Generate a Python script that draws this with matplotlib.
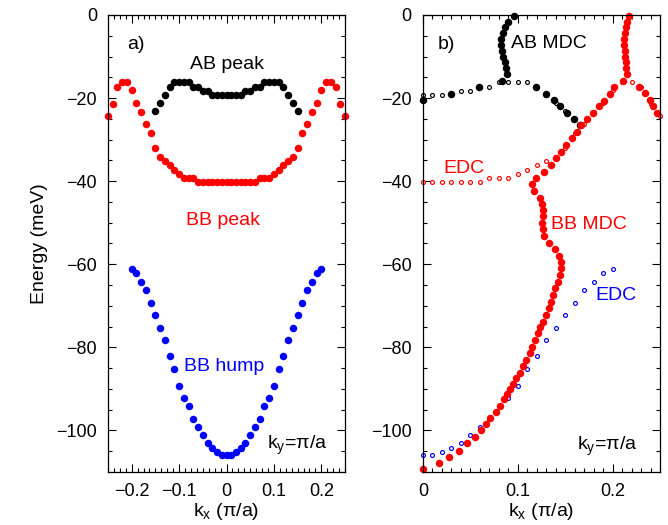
import numpy as np
import matplotlib
matplotlib.use('Agg')
import matplotlib.pyplot as plt
from matplotlib.ticker import MultipleLocator

plt.rcParams['font.family'] = ['Liberation Sans', 'DejaVu Sans']
plt.rcParams['axes.unicode_minus'] = True

# ---- panel a: peak positions vs kx (ky = pi/a) ----
k_ab = np.array([-0.15, -0.14, -0.13, -0.12, -0.11, -0.10, -0.09, -0.08, -0.07, -0.06,
                 -0.05, -0.04, -0.03, -0.02, -0.01, 0.0, 0.01, 0.02, 0.03, 0.04,
                 0.05, 0.06, 0.07, 0.08, 0.09, 0.10, 0.11, 0.12, 0.13, 0.14, 0.15])
e_ab = np.array([-23.1, -21.3, -19.3, -17.4, -16.1, -16.1, -16.1, -16.1, -17.3, -17.3,
                 -18.2, -18.2, -19.2, -19.2, -19.2, -19.2, -19.2, -19.2, -19.2, -18.2,
                 -18.2, -17.3, -17.3, -16.1, -16.1, -16.1, -16.1, -17.4, -19.3, -21.3, -23.1])

k_bb = np.array([-0.25, -0.24, -0.23, -0.22, -0.21, -0.20, -0.19, -0.18, -0.17, -0.16,
                 -0.15, -0.14, -0.13, -0.12, -0.11, -0.10, -0.09, -0.08, -0.07, -0.06,
                 -0.05, -0.04, -0.03, -0.02, -0.01, 0.0, 0.01, 0.02, 0.03, 0.04,
                 0.05, 0.06, 0.07, 0.08, 0.09, 0.10, 0.11, 0.12, 0.13, 0.14,
                 0.15, 0.16, 0.17, 0.18, 0.19, 0.20, 0.21, 0.22, 0.23, 0.24, 0.25])
e_bb = np.array([-24.3, -21.4, -17.3, -16.1, -16.1, -18.1, -21.3, -23.3, -26.3, -28.4,
                 -32.1, -34.1, -35.2, -36.2, -37.2, -38.2, -39.2, -39.2, -39.2, -40.2,
                 -40.2, -40.2, -40.2, -40.2, -40.2, -40.2, -40.2, -40.2, -40.2, -40.2,
                 -40.2, -40.2, -39.2, -39.2, -39.2, -38.2, -37.2, -36.2, -35.2, -34.1,
                 -32.1, -28.4, -26.3, -23.3, -21.3, -18.1, -16.1, -16.1, -17.3, -21.4, -24.3])

k_hump = np.array([-0.20, -0.19, -0.18, -0.17, -0.16, -0.15, -0.14, -0.13, -0.12, -0.11,
                   -0.10, -0.09, -0.08, -0.07, -0.06, -0.05, -0.04, -0.03, -0.02, -0.01,
                   0.0, 0.01, 0.02, 0.03, 0.04, 0.05, 0.06, 0.07, 0.08, 0.09,
                   0.10, 0.11, 0.12, 0.13, 0.14, 0.15, 0.16, 0.17, 0.18, 0.19, 0.20])
e_hump = np.array([-61.2, -62.1, -64.3, -66.3, -69.3, -72.3, -75.3, -78.3, -82.2, -85.1,
                   -89.2, -92.1, -94.2, -97.2, -99.2, -101.2, -103.1, -104.3, -105.2, -106.0,
                   -106.0, -106.0, -105.2, -104.3, -103.1, -101.2, -99.2, -97.2, -94.2, -92.1,
                   -89.2, -85.1, -82.2, -78.3, -75.3, -72.3, -69.3, -66.3, -64.3, -62.1, -61.2])

# ---- panel b: MDC dispersions ----
e_top = [-0.2, -1.6, -3.0, -4.4, -5.8, -7.2, -8.6, -10.0, -11.4, -12.8, -14.3, -15.9]
k_ab_mdc = [0.0955, 0.0898, 0.0863, 0.0839, 0.0828, 0.0828, 0.0835, 0.0846, 0.086, 0.0878, 0.0891, 0.0837]
k_bb_top = [0.2172, 0.2151, 0.2137, 0.2126, 0.2119, 0.2119, 0.2126, 0.2133, 0.2137, 0.2144, 0.2151, 0.2109]

k_ab_left = [0.0, 0.030, 0.059]
e_ab_left = [-20.5, -19.0, -17.4]
k_ab_right = [0.119, 0.130, 0.138, 0.145, 0.152, 0.159, 0.166]
e_ab_right = [-17.4, -19.0, -20.5, -22.0, -23.5, -25.1, -26.6]

k_bb_outer = [0.228, 0.234, 0.239, 0.2425, 0.2466]
e_bb_outer = [-17.3, -18.8, -20.5, -21.9, -23.5]

k_bb_mdc = [0.2014, 0.197, 0.191, 0.186, 0.179, 0.173, 0.167, 0.162, 0.157, 0.151,
            0.146, 0.1407, 0.1347, 0.1274, 0.1197, 0.115, 0.1168, 0.123, 0.126, 0.1267,
            0.1267, 0.126, 0.1267, 0.128, 0.133, 0.139, 0.1435, 0.146, 0.1456, 0.1446,
            0.1421, 0.1397, 0.1375, 0.1351, 0.1326, 0.1295, 0.1267, 0.1239, 0.1214, 0.1186,
            0.1154, 0.1126, 0.1091, 0.1056, 0.1021, 0.0986, 0.0951, 0.0916, 0.0888, 0.0853,
            0.0811, 0.0768, 0.0712, 0.0663, 0.0607, 0.0547, 0.046, 0.0376, 0.0277, 0.0172, 0.0003]
e_bb_mdc = [-17.3, -19.1, -20.6, -21.9, -23.5, -25.1, -26.6, -28.2, -29.7, -31.3,
            -32.9, -34.5, -36.1, -37.7, -39.2, -40.7, -42.4, -44.0, -45.5, -46.9,
            -48.4, -50.0, -51.6, -53.2, -54.8, -56.4, -58.0, -59.5, -61.0, -62.6,
            -64.2, -65.8, -67.4, -69.0, -70.6, -72.2, -73.8, -75.2, -76.6, -78.2,
            -79.8, -81.4, -83.0, -84.6, -86.1, -87.4, -88.8, -90.1, -91.3, -92.5,
            -94.1, -95.5, -97.1, -98.5, -100.0, -101.7, -103.1, -104.9, -106.5, -107.9, -109.3]

fig = plt.figure(figsize=(6.68, 5.25), dpi=100)
axa = fig.add_axes([0.1617, 0.101, 0.3548, 0.8705])
axb = fig.add_axes([0.6332, 0.101, 0.3548, 0.8705])

big = dict(marker='o', ls='none', ms=5.4, mew=0, clip_on=False)
small = dict(marker='o', ls='none', ms=2.8, mfc='white', mew=0.85, clip_on=False)

axa.plot(k_ab, e_ab, color='black', **big)
axa.plot(k_bb, e_bb, color='red', **big)
axa.plot(k_hump, e_hump, color='blue', **big)

# EDC (open) from panel a, kx >= 0
m = k_ab >= 0
axb.plot(k_ab[m], e_ab[m], color='black', mec='black', **small)
m = k_bb >= 0
axb.plot(k_bb[m], e_bb[m], color='red', mec='red', **small)
m = k_hump >= 0
axb.plot(k_hump[m], e_hump[m], color='blue', mec='blue', **small)

axb.plot(k_ab_mdc, e_top, color='black', **big)
axb.plot(k_ab_left, e_ab_left, color='black', **big)
axb.plot(k_ab_right, e_ab_right, color='black', **big)
axb.plot(k_bb_top, e_top, color='red', **big)
axb.plot(k_bb_outer, e_bb_outer, color='red', **big)
axb.plot(k_bb_mdc, e_bb_mdc, color='red', **big)

fs = 14
axa.text(-0.21, -7.2, 'a)', fontsize=fs, va='center')
axa.text(0.0, -12, 'AB peak', fontsize=fs, ha='center', va='center', color='black')
axa.text(-0.008, -49.4, 'BB peak', fontsize=fs, ha='center', va='center', color='red')
axa.text(-0.006, -84.7, 'BB hump', fontsize=fs, ha='center', va='center', color='blue')
axa.text(0.085, -103.5, r'k$_\mathregular{y}$=π/a', fontsize=fs, va='center')

axb.text(0.016, -7.2, 'b)', fontsize=fs, va='center')
axb.text(0.093, -6.8, 'AB MDC', fontsize=fs, va='center', color='black')
axb.text(0.021, -36.9, 'EDC', fontsize=fs, va='center', color='red')
axb.text(0.1355, -50.5, 'BB MDC', fontsize=fs, va='center', color='red')
axb.text(0.182, -67.5, 'EDC', fontsize=fs, va='center', color='blue')
axb.text(0.162, -103.9, r'k$_\mathregular{y}$=π/a', fontsize=fs, va='center')

axa.set_xlim(-0.25, 0.25)
axb.set_xlim(0, 0.25)
for ax in (axa, axb):
    ax.set_ylim(-110, 0)
    ax.yaxis.set_major_locator(MultipleLocator(20))
    ax.yaxis.set_minor_locator(MultipleLocator(5))
    ax.xaxis.set_major_locator(MultipleLocator(0.1))
    ax.tick_params(which='both', direction='in', top=True, right=True, labelsize=13, pad=8)
    ax.tick_params(which='major', length=6, width=0.8)
    ax.tick_params(which='minor', length=3, width=0.8)
    ax.set_xlabel(r'k$_\mathregular{x}$ ($\mathregular{\pi}$/a)', fontsize=14, labelpad=1)
    for s in ax.spines.values():
        s.set_linewidth(0.9)
axa.xaxis.set_minor_locator(MultipleLocator(0.0125))
axb.xaxis.set_minor_locator(MultipleLocator(0.01))
axa.set_xticks([-0.2, -0.1, 0, 0.1, 0.2])
axa.set_xticklabels(['−0.2', '−0.1', '0', '0.1', '0.2'])
axb.set_xticks([0, 0.1, 0.2])
axb.set_xticklabels(['0', '0.1', '0.2'])
axa.set_ylabel('Energy (meV)', fontsize=14, labelpad=6)

fig.savefig('out.png', dpi=100)
